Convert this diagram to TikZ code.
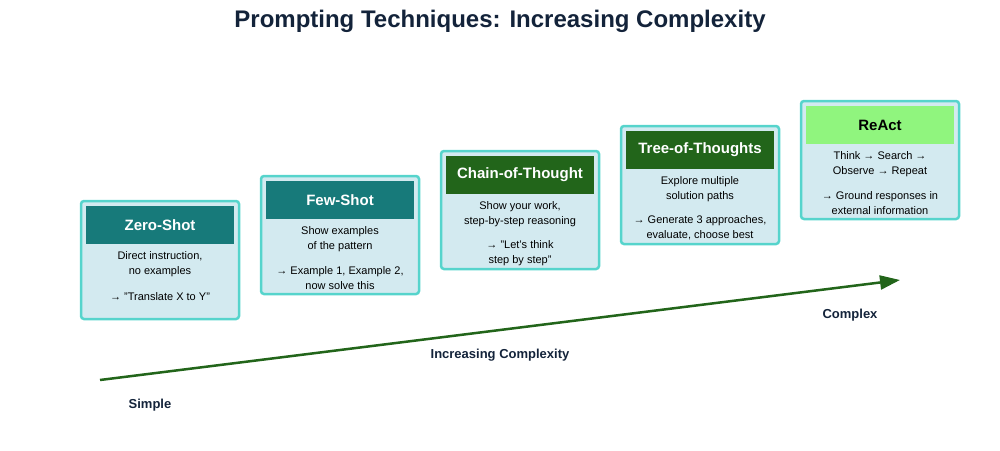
\documentclass[tikz,border=0pt]{standalone}
\usepackage{fontspec}
\setmainfont{Liberation Sans}
\usetikzlibrary{arrows.meta}
\definecolor{bord}{HTML}{56D4CC}
\definecolor{boxfill}{HTML}{D3EAF0}
\definecolor{teal}{HTML}{177A7A}
\definecolor{dgreen}{HTML}{22651A}
\definecolor{lgreen}{HTML}{90F57E}
\definecolor{navy}{HTML}{13233A}
\begin{document}
\begin{tikzpicture}[x=1pt,y=-1pt,
  outer/.style={draw=bord,line width=2.5pt,fill=boxfill,rounded corners=3pt,minimum width=158pt,minimum height=118pt,inner sep=0pt},
  head/.style={fill=#1,minimum width=148pt,minimum height=38pt,inner sep=0pt,text=white,font=\bfseries\fontsize{15}{18}\selectfont},
  body/.style={font=\fontsize{11}{15}\selectfont,align=center,text=black},
  lab/.style={font=\bfseries\fontsize{13}{16}\selectfont,text=navy}]
\useasboundingbox (0,0) rectangle (1000,450);
\node[font=\bfseries\fontsize{24}{28}\selectfont,text=navy] (title) at (500,21) {Prompting Techniques: Increasing Complexity};
\foreach \n/\x/\y in {z/160/260,f/340/235,c/520/210,t/700/185,r/880/160}{
  \node[outer] (\n) at (\x,\y) {};
}
\node[head=teal] (zh) at (160,225) {Zero-Shot};
\node[head=teal] (fh) at (340,200) {Few-Shot};
\node[head=dgreen] (ch) at (520,175) {Chain-of-Thought};
\node[head=dgreen] (th) at (700,150) {Tree-of-Thoughts};
\node[head=lgreen,text=black] (rh) at (880,125) {ReAct};
\node[body] (zb1) at (160,264) {Direct instruction,\\no examples};
\node[body] (zb2) at (160,297) {→ "Translate X to Y"};
\node[body] (fb1) at (340,239) {Show examples\\of the pattern};
\node[body] (fb2) at (340,278) {→ Example 1, Example 2,\\now solve this};
\node[body] (cb1) at (520,214) {Show your work,\\step-by-step reasoning};
\node[body] (cb2) at (520,253) {→ "Let's think\\step by step"};
\node[body] (tb1) at (700,189) {Explore multiple\\solution paths};
\node[body] (tb2) at (700,228) {→ Generate 3 approaches,\\evaluate, choose best};
\node[body] (rb1) at (880,164) {Think → Search →\\Observe → Repeat};
\node[body] (rb2) at (880,203) {→ Ground responses in\\external information};
\coordinate (a0) at (100,380);
\coordinate (a1) at (900,280);
\draw[dgreen,line width=2.5pt,-{Triangle[length=20pt,width=14pt]}] (a0) -- (a1);
\node[lab] (simple) at (150,405) {Simple};
\node[lab] (inc) at (500,355) {Increasing Complexity};
\node[lab] (cplx) at (850,315) {Complex};
\end{tikzpicture}
\end{document}
